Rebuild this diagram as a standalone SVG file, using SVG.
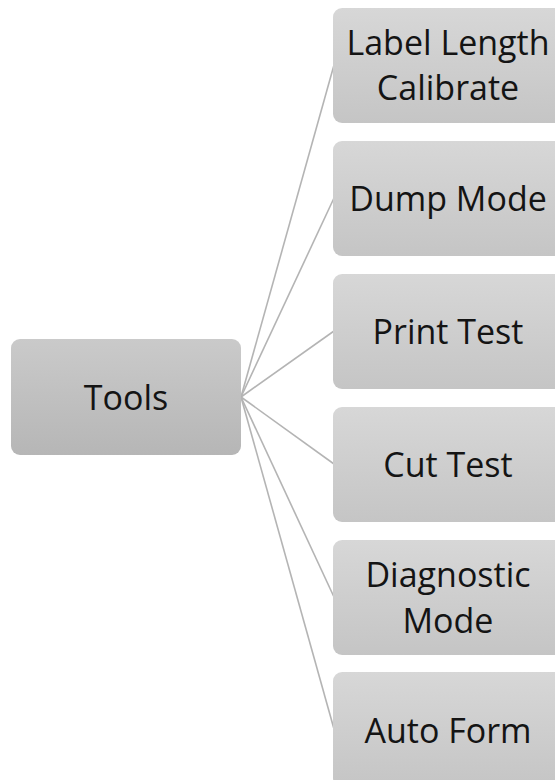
<svg xmlns="http://www.w3.org/2000/svg" width="555" height="780" viewBox="0 0 555 780">
<defs>
<linearGradient id="gRoot" x1="0" y1="0" x2="0" y2="1"><stop offset="0" stop-color="#cacaca"/><stop offset="1" stop-color="#b6b6b6"/></linearGradient>
<linearGradient id="gChild" x1="0" y1="0" x2="0" y2="1"><stop offset="0" stop-color="#d7d7d7"/><stop offset="1" stop-color="#c5c5c5"/></linearGradient>
</defs>
<style>
.root{fill:url(#gRoot)}
.child{fill:url(#gChild)}
.t{font-family:"Open Sans","Liberation Sans",sans-serif;font-size:34px;fill:#141414;text-anchor:middle}
.c line{stroke:#b4b4b4;stroke-width:1.6}
</style>
<g class="c" id="connectors">
<line x1="241" y1="397" x2="334" y2="65"/>
<line x1="241" y1="397" x2="334" y2="198"/>
<line x1="241" y1="397" x2="334" y2="331"/>
<line x1="241" y1="397" x2="334" y2="464"/>
<line x1="241" y1="397" x2="334" y2="597"/>
<line x1="241" y1="397" x2="334" y2="729"/>
</g>
<g id="tools"><rect class="root" x="11" y="339" width="230" height="116" rx="9"/><text class="t" x="126" y="410">Tools</text></g>
<g id="n1"><rect class="child" x="333" y="8" width="231" height="115" rx="9"/><text class="t" x="448" y="55">Label Length</text><text class="t" x="448" y="100">Calibrate</text></g>
<g id="n2"><rect class="child" x="333" y="141" width="231" height="115" rx="9"/><text class="t" x="448" y="211">Dump Mode</text></g>
<g id="n3"><rect class="child" x="333" y="274" width="231" height="115" rx="9"/><text class="t" x="448" y="344">Print Test</text></g>
<g id="n4"><rect class="child" x="333" y="407" width="231" height="115" rx="9"/><text class="t" x="448" y="477">Cut Test</text></g>
<g id="n5"><rect class="child" x="333" y="540" width="231" height="115" rx="9"/><text class="t" x="448" y="587">Diagnostic</text><text class="t" x="448" y="633">Mode</text></g>
<g id="n6"><rect class="child" x="333" y="672" width="231" height="115" rx="9"/><text class="t" x="448" y="743">Auto Form</text></g>
</svg>
